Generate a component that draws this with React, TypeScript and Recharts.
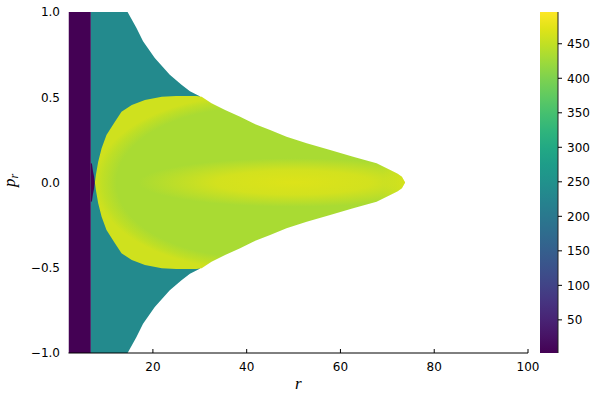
import React from 'react';
import { ComposedChart, Area, XAxis, YAxis, Label } from 'recharts';

// ---- axes ----
const xDomain = [2, 100];
const xTicks = [20, 40, 60, 80, 100];
const yDomain = [-1, 1];
const yTicks = [-1, -0.5, 0, 0.5, 1];
const yTickLabels = ['\u22121.0', '\u22120.5', '0.0', '0.5', '1.0'];
const cbDomain = [2, 496];
const cbTicks = [50, 100, 150, 200, 250, 300, 350, 400, 450];

// ---- viridis colour map (anchors every 0.05) ----
const viridisStops = [
  '#440154', '#471365', '#482475', '#463480', '#414487', '#3b528b', '#355f8d',
  '#2f6c8e', '#2a788e', '#25848e', '#21918c', '#1e9c89', '#22a884', '#2fb47c',
  '#44bf70', '#5ec962', '#7ad151', '#9bd93c', '#bddf26', '#dfe318', '#fde725',
];

// ---- field levels (colour-bar values) ----
const levelBand = 2;
const levelOuter = 236;
const levelInner = 432;
const levelEdge = 460;
const levelRidge = 470;

// ---- region boundaries (r, |p|) ----
const bandR = [2, 6.77];
const bandP = [1, 1];
const outerR = [6.77, 14.6, 16.5, 17.9, 20.4, 23.6, 26.1, 27.9, 30.0];
const outerP = [1, 1, 0.906, 0.828, 0.73, 0.632, 0.574, 0.535, 0.506];
const notchR = [6.77, 7.0, 7.2, 7.45, 7.6];
const notchP = [0.115, 0.11, 0.07, 0.035, 0];
const innerR = [7.63, 7.84, 8.33, 9.06, 10.1, 11.9, 13.3, 15.5, 18.3, 21.9, 25.0, 29.3, 30.4, 32.5, 35.4, 38.6, 41.4, 45.0, 48.5, 52.8, 57.8, 62.7, 67.7, 70.6, 72.2, 73.1, 73.8];
const innerP = [0, 0.044, 0.122, 0.201, 0.279, 0.357, 0.415, 0.455, 0.484, 0.503, 0.508, 0.508, 0.503, 0.465, 0.425, 0.386, 0.347, 0.308, 0.269, 0.23, 0.191, 0.151, 0.113, 0.073, 0.052, 0.034, 0];

const hexToRgb = (h: string) => [1, 3, 5].map((i) => parseInt(h.slice(i, i + 2), 16));
const viridis = (t: number) => {
  const c = Math.max(0, Math.min(1, t)) * (viridisStops.length - 1);
  const i = Math.min(Math.floor(c), viridisStops.length - 2);
  const f = c - i;
  const a = hexToRgb(viridisStops[i]);
  const b = hexToRgb(viridisStops[i + 1]);
  const m = a.map((v, k) => Math.round(v + (b[k] - v) * f));
  return `rgb(${m[0]},${m[1]},${m[2]})`;
};
const level = (v: number) => viridis((v - cbDomain[0]) / (cbDomain[1] - cbDomain[0]));

const sym = (rs: number[], ps: number[]) => rs.map((r, i) => ({ r, p: [-ps[i], ps[i]] }));
const bandData = sym(bandR, bandP);
const outerData = sym(outerR, outerP);
const notchData = sym(notchR, notchP);
const innerData = sym(innerR, innerP);
const cbData = [
  { x: 0, v: cbDomain },
  { x: 1, v: cbDomain },
];

const font = 'DejaVu Sans';

const RLabel = (props: any) => {
  const vb = props.viewBox || {};
  const cx = vb.x + vb.width / 2;
  return (
    <text x={cx} y={vb.y + 36} textAnchor="middle" fontFamily="Liberation Serif" fontStyle="italic" fontSize={17} fill="#000">
      r
    </text>
  );
};

const PLabel = (props: any) => {
  const vb = props.viewBox || {};
  const cx = vb.x + 14;
  const cy = vb.y + vb.height / 2 - 2;
  return (
    <text transform={`rotate(-90 ${cx} ${cy})`} x={cx} y={cy} textAnchor="middle" fontFamily="Liberation Serif" fontStyle="italic" fontSize={17} fill="#000">
      <tspan>p</tspan>
      <tspan fontSize={12} dy={3}>r</tspan>
    </text>
  );
};

const areaCommon = {
  type: 'linear' as const,
  dataKey: 'p',
  stroke: 'none',
  fillOpacity: 1,
  isAnimationActive: false,
  dot: false,
  activeDot: false,
};

export default function App() {
  return (
    <div style={{ position: 'absolute', left: 0, top: 0, width: 600, height: 400, background: '#fff' }}>
      <ComposedChart width={600} height={400} margin={{ top: 12, right: 72, bottom: 0, left: 0.5 }}>
        <defs>
          <radialGradient id="innerRing" cx="0.5" cy="0.5" r="0.5">
            <stop offset="0" stopColor={level(levelInner)} />
            <stop offset="0.86" stopColor={level(levelInner)} />
            <stop offset="0.95" stopColor={level(levelEdge - 12)} />
            <stop offset="1" stopColor={level(levelEdge)} />
          </radialGradient>
          <radialGradient id="ridge" cx="0.64" cy="0.5" r="0.5" gradientTransform="translate(0.64 0.5) scale(1 0.28) translate(-0.64 -0.5)">
            <stop offset="0" stopColor={level(levelRidge)} stopOpacity={1} />
            <stop offset="0.5" stopColor={level(levelRidge)} stopOpacity={0.8} />
            <stop offset="1" stopColor={level(levelRidge)} stopOpacity={0} />
          </radialGradient>
        </defs>
        <XAxis
          type="number"
          dataKey="r"
          domain={xDomain}
          ticks={xTicks}
          allowDataOverflow
          height={47}
          tickSize={-4}
          tickMargin={13}
          axisLine={{ stroke: '#000' }}
          tickLine={{ stroke: '#000' }}
          tick={{ fontFamily: font, fontSize: 12, fill: '#000' }}
        >
          <Label content={RLabel} />
        </XAxis>
        <YAxis
          type="number"
          domain={yDomain}
          ticks={yTicks}
          allowDataOverflow
          width={68}
          axisLine={false}
          tickLine={false}
          tickSize={4}
          tickMargin={4.5}
          tickFormatter={(v: number) => yTickLabels[yTicks.indexOf(v)]}
          tick={{ fontFamily: font, fontSize: 12, fill: '#000' }}
        >
          <Label content={PLabel} />
        </YAxis>
        <Area {...areaCommon} data={bandData} fill={level(levelBand)} />
        <Area {...areaCommon} data={outerData} fill={level(levelOuter)} />
        <Area {...areaCommon} data={notchData} fill={level(levelBand)} />
        <Area {...areaCommon} data={innerData} fill="url(#innerRing)" />
        <Area {...areaCommon} data={innerData} fill="url(#ridge)" />
      </ComposedChart>
      <div style={{ position: 'absolute', left: 530, top: 0 }}>
        <ComposedChart width={70} height={400} data={cbData} margin={{ top: 12, right: 0, bottom: 47, left: 10 }}>
          <defs>
            <linearGradient id="viridisBar" x1="0" y1="1" x2="0" y2="0">
              {viridisStops.map((c, i) => (
                <stop key={i} offset={i / (viridisStops.length - 1)} stopColor={c} />
              ))}
            </linearGradient>
          </defs>
          <XAxis type="number" dataKey="x" domain={[0, 1]} hide />
          <YAxis
            type="number"
            orientation="right"
            domain={cbDomain}
            ticks={cbTicks}
            allowDataOverflow
            width={42}
            tickSize={4}
            tickMargin={5}
            axisLine={{ stroke: '#222' }}
            tickLine={{ stroke: '#000' }}
            tick={{ fontFamily: font, fontSize: 12, fill: '#000', textAnchor: 'start' }}
          />
          <Area {...areaCommon} dataKey="v" fill="url(#viridisBar)" />
        </ComposedChart>
      </div>
    </div>
  );
}
